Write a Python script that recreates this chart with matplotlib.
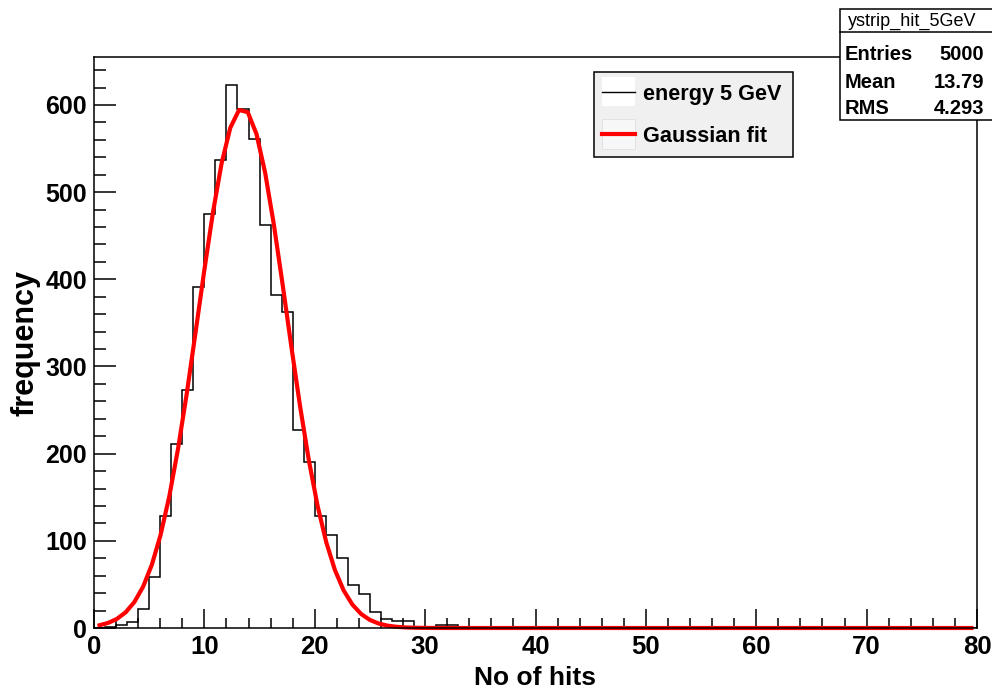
# ── recreate ROOT histogram: ystrip hits at 5 GeV with Gaussian fit ──
import numpy as np
import matplotlib.pyplot as plt
from matplotlib.patches import Rectangle
from matplotlib.lines import Line2D
from matplotlib.ticker import MultipleLocator
from matplotlib.transforms import Affine2D

# ── 1. DATA ──────────────────────────────────
x_lo, x_hi = 0, 80
counts = [0, 1, 3, 7, 22, 58, 128, 211, 273, 391,
          475, 537, 623, 595, 561, 462, 382, 362, 227, 190,
          128, 107, 80, 49, 39, 18, 10, 8, 8, 1,
          0, 3, 3] + [0] * 47

fit_amp   = 596.0
fit_mean  = 13.45
fit_sigma = 4.0
fit_lo, fit_hi = 0.5, 79.5

stats_title  = "ystrip_hit_5GeV"
stats_labels = ["Entries", "Mean", "RMS"]
stats_values = ["5000", "13.79", "4.293"]
legend_labels = ["energy 5 GeV", "Gaussian fit"]

# ── 2. FIGURE ────────────────────────────────
W, H = 992, 694
plt.rcParams["font.family"] = ["Liberation Sans", "DejaVu Sans"]
fig = plt.figure(figsize=(W / 100, H / 100), dpi=100)
ax = fig.add_axes([94 / W, 1 - 628 / H, (977 - 94) / W, (628 - 57) / H])

# pixel coords (from top-left) -> figure
px = Affine2D().scale(1 / W, -1 / H).translate(0, 1) + fig.transFigure

edges = np.arange(x_lo, x_hi + 1)
ax.stairs(counts, edges, color="black", lw=1.1, zorder=2)

xf = np.linspace(fit_lo, fit_hi, 101)
yf = fit_amp * np.exp(-0.5 * ((xf - fit_mean) / fit_sigma) ** 2)
ax.plot(xf, yf, color="#ff0000", lw=3.0, clip_on=False, zorder=2.1)

ax.set_xlim(x_lo, x_hi)
ax.set_ylim(0, 655)

ax.xaxis.set_major_locator(MultipleLocator(10))
ax.xaxis.set_minor_locator(MultipleLocator(2))
ax.yaxis.set_major_locator(MultipleLocator(100))
ax.yaxis.set_minor_locator(MultipleLocator(20))
ax.tick_params(which="both", direction="in", top=False, right=False, width=1.1)
ax.tick_params(axis="x", which="major", length=14, pad=5, labelsize=18.5)
ax.tick_params(axis="x", which="minor", length=7)
ax.tick_params(axis="y", which="major", length=16, pad=5, labelsize=18)
ax.tick_params(axis="y", which="minor", length=8.5)
for lab in ax.get_xticklabels() + ax.get_yticklabels():
    lab.set_fontweight("bold")
for sp in ax.spines.values():
    sp.set_linewidth(1.1)

ax.set_xlabel("No of hits", fontsize=19, fontweight="bold")
ax.set_ylabel("frequency", fontsize=22, fontweight="bold")
ax.xaxis.set_label_coords(0.5, -0.066)
ax.yaxis.set_label_coords(-0.061, 0.5)

# ── 3. LEGEND ────────────────────────────────
fig.patches.append(Rectangle((594, 72), 199, 85, transform=px, fc="#f0f0f0",
                             ec="black", lw=1.1, zorder=5))
fig.patches.append(Rectangle((602, 77), 33, 29, transform=px, fc="white",
                             ec="none", zorder=6))
fig.patches.append(Rectangle((602, 119), 33, 30, transform=px, fc="#f7f7f7",
                             ec="#e2e2e2", lw=0.7, zorder=6))
fig.lines.append(Line2D([602, 635], [92, 92], transform=px, color="black",
                        lw=1.0, zorder=7))
fig.lines.append(Line2D([602, 635], [134, 134], transform=px, color="#ff0000",
                        lw=3.0, zorder=7))
for lab, yy in zip(legend_labels, [92, 134]):
    fig.text(643, yy, lab, transform=px, fontsize=15.6, fontweight="bold",
             va="center_baseline", ha="left", zorder=8)

# ── 4. STATS BOX ─────────────────────────────
fig.patches.append(Rectangle((840, 9), 170, 111, transform=px, fc="white",
                             ec="black", lw=1.1, zorder=5))
fig.lines.append(Line2D([840, 992], [32, 32], transform=px, color="black",
                        lw=1.1, zorder=6))
fig.text(912, 19, stats_title, transform=px, fontsize=13,
         va="center_baseline", ha="center", zorder=8)
for i, (lab, val) in enumerate(zip(stats_labels, stats_values)):
    yy = 53 + 27 * i
    fig.text(845, yy, lab, transform=px, fontsize=14.5, fontweight="bold",
             va="center_baseline", ha="left", zorder=8)
    fig.text(984, yy, val, transform=px, fontsize=14.5, fontweight="bold",
             va="center_baseline", ha="right", zorder=8)

fig.savefig("out.png", dpi=100, facecolor="white")
